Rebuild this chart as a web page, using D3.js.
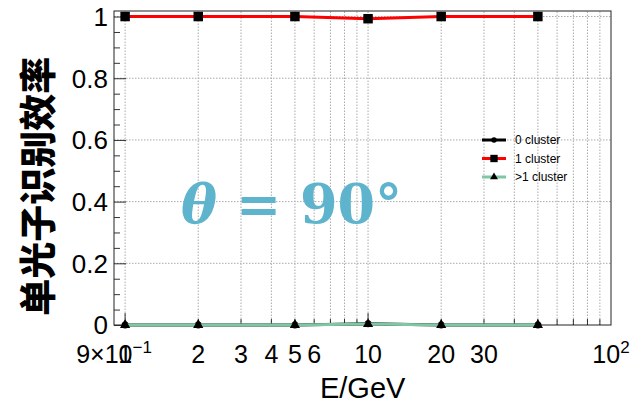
<!DOCTYPE html>
<html>
<head>
<meta charset="utf-8">
<script src="https://cdn.jsdelivr.net/npm/d3@7"></script>
<style>
  body { margin: 0; background: #fff; }
  text { font-family: "Liberation Sans", Arial, sans-serif; }
</style>
</head>
<body>
<svg width="631" height="407"></svg>
<script>
// energies (GeV)
let energies = [1, 2, 5, 10, 20, 50];
// efficiencies per cluster count
let eff0 = [0, 0, 0, 0.004, 0, 0];
let eff1 = [1, 1, 1, 0.993, 1, 1];
let effMore = [0, 0, 0, 0.003, 0, 0];
let seriesNames = ['0 cluster', '1 cluster', '>1 cluster'];

let yTicks = [0, 0.2, 0.4, 0.6, 0.8, 1];
let xLabelVals = [0.9, 1, 2, 3, 4, 5, 6, 10, 20, 30, 100];
let xGridVals = [1, 2, 3, 4, 5, 6, 7, 8, 9, 10, 20, 30, 40, 50, 60, 70, 80, 90];

let svg = d3.select('svg');
let margin = {left: 114, right: 20, top: 11, bottom: 82};
let W = 631, H = 407;

let scaleX = d3.scaleLog().domain([0.9, 100]).range([margin.left, W - margin.right]);
let scaleY = d3.scaleLinear().domain([0, 1.018]).range([H - margin.bottom, margin.top]);

let x0 = margin.left, x1 = W - margin.right, y0 = H - margin.bottom, y1 = margin.top;

// grid
svg.append('g').selectAll('line')
    .data(xGridVals)
    .enter().append('line')
    .attr('x1', d => scaleX(d)).attr('x2', d => scaleX(d))
    .attr('y1', y0).attr('y2', y1)
    .attr('stroke', '#aaa').attr('stroke-width', 1)
    .attr('stroke-dasharray', '1.5,1.5');

svg.append('g').selectAll('line')
    .data(yTicks.slice(1))
    .enter().append('line')
    .attr('x1', x0).attr('x2', x1)
    .attr('y1', d => scaleY(d)).attr('y2', d => scaleY(d))
    .attr('stroke', '#aaa').attr('stroke-width', 1)
    .attr('stroke-dasharray', '1.5,1.5');

// y axis (ticks inside)
let yAxis = d3.axisLeft(scaleY)
    .tickValues(d3.range(0, 1.001, 0.05))
    .tickSize(-6)
    .tickFormat('');
svg.append('g')
    .attr('transform', 'translate(' + x0 + ',0)')
    .call(yAxis)
    .call(g => g.selectAll('.tick line').attr('stroke', '#000').attr('stroke-width', 0.8))
    .call(g => g.selectAll('.tick').filter(d => Math.abs(d * 5 - Math.round(d * 5)) < 1e-6).select('line').attr('x2', 12))
    .call(g => g.select('.domain').remove());

svg.append('g').selectAll('text')
    .data(yTicks)
    .enter().append('text')
    .attr('x', x0 - 6)
    .attr('y', d => scaleY(d))
    .attr('dy', '0.36em')
    .attr('text-anchor', 'end')
    .attr('font-size', 26)
    .text(d => d === 0 || d === 1 ? d : d.toFixed(1));

// x axis ticks (inside)
svg.append('g').selectAll('line')
    .data(xGridVals)
    .enter().append('line')
    .attr('x1', d => scaleX(d)).attr('x2', d => scaleX(d))
    .attr('y1', y0).attr('y2', d => (d === 1 || d === 10) ? y0 - 12 : y0 - 6)
    .attr('stroke', '#000').attr('stroke-width', 0.8);

let xl = svg.append('g').selectAll('text')
    .data(xLabelVals)
    .enter().append('text')
    .attr('x', d => scaleX(d))
    .attr('y', y0 + 38)
    .attr('text-anchor', 'middle')
    .attr('font-size', 25);
xl.each(function(d) {
    let t = d3.select(this);
    if (d === 0.9) {
        t.append('tspan').text('9×10');
        t.append('tspan').attr('dy', -10).attr('font-size', 17).text('−1');
    } else if (d === 100) {
        t.append('tspan').text('10');
        t.append('tspan').attr('dy', -10).attr('font-size', 17).text('2');
    } else {
        t.text(d);
    }
});

// frame
svg.append('rect')
    .attr('x', x0).attr('y', y1)
    .attr('width', x1 - x0).attr('height', y0 - y1)
    .attr('fill', 'none').attr('stroke', '#222').attr('stroke-width', 1);

// axis titles
svg.append('text')
    .attr('x', scaleX(9.5))
    .attr('y', 398)
    .attr('text-anchor', 'middle')
    .attr('font-size', 29)
    .text('E/GeV');

svg.append('text')
    .attr('transform', 'translate(52,' + scaleY(0.45) + ') rotate(-90)')
    .attr('text-anchor', 'middle')
    .style('font-family', '"Noto Sans CJK SC", sans-serif')
    .style('font-weight', 900)
    .attr('font-size', 37)
    .text('单光子识别效率');

// annotation
let ann = svg.append('text')
    .attr('x', scaleX(1.7))
    .attr('y', scaleY(0.33))
    .style('font-family', '"DejaVu Serif", "Liberation Serif", serif')
    .style('font-weight', 'bold')
    .attr('font-size', 54)
    .attr('fill', '#5fb4cd');
ann.append('tspan').style('font-style', 'italic').text('θ');
ann.append('tspan').text(' = 90°');

// series
let series = [
    {key: 'c0', name: seriesNames[0], vals: eff0, color: '#000000', marker: d3.symbolCircle, size: 40},
    {key: 'c1', name: seriesNames[1], vals: eff1, color: '#ff0000', marker: d3.symbolSquare, size: 90},
    {key: 'cm', name: seriesNames[2], vals: effMore, color: '#7fc7a4', marker: d3.symbolTriangle, size: 45}
];

let lineFn = d3.line()
    .x(d => scaleX(d[0]))
    .y(d => scaleY(d[1]));

series.forEach(function(s) {
    let pts = energies.map((e, i) => [e, s.vals[i]]);
    svg.append('path')
        .datum(pts)
        .attr('d', lineFn)
        .attr('fill', 'none')
        .attr('stroke', s.color)
        .attr('stroke-width', 3);
    svg.selectAll('.m-' + s.key)
        .data(pts)
        .enter().append('path')
        .attr('class', 'm-' + s.key)
        .attr('d', d3.symbol().type(s.marker).size(s.size))
        .attr('transform', d => 'translate(' + scaleX(d[0]) + ',' + scaleY(d[1]) + ')')
        .attr('fill', '#000');
});

// legend
let leg = svg.append('g').attr('transform', 'translate(482,140)');
series.forEach(function(s, i) {
    let g = leg.append('g').attr('transform', 'translate(0,' + (i * 18.5) + ')');
    g.append('line').attr('x1', 0).attr('x2', 24).attr('y1', 0).attr('y2', 0)
        .attr('stroke', s.color).attr('stroke-width', 3);
    g.append('path').attr('d', d3.symbol().type(s.marker).size(s.size * 0.6))
        .attr('transform', 'translate(12,0)').attr('fill', '#000');
    g.append('text').attr('x', 33).attr('y', 0).attr('dy', '0.36em')
        .attr('font-size', 12).text(s.name);
});
</script>
</body>
</html>
